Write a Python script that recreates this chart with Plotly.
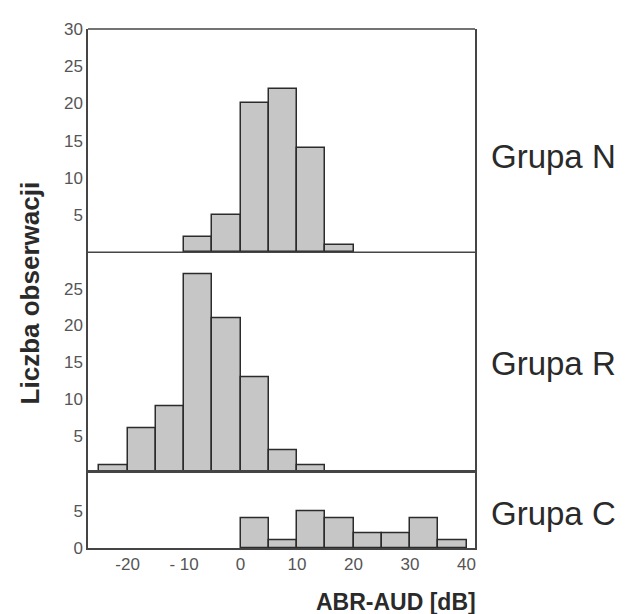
import plotly.graph_objects as go

# Bin starts (dB) and counts per group, bin width 5 dB
bin_width = 5
n_bins = [-10, -5, 0, 5, 10, 15]
n_counts = [2, 5, 20, 22, 14, 1]
r_bins = [-25, -20, -15, -10, -5, 0, 5, 10]
r_counts = [1, 6, 9, 27, 21, 13, 3, 1]
c_bins = [0, 5, 10, 15, 20, 25, 30, 35]
c_counts = [4, 1, 5, 4, 2, 2, 4, 1]

x_ticks = [-20, -10, 0, 10, 20, 30, 40]
x_ticktext = ["-20", "- 10", "0", "10", "20", "30", "40"]
group_labels = ["Grupa N", "Grupa R", "Grupa C"]

fig = go.Figure()

bar_style = dict(marker=dict(color="#c6c6c6", line=dict(color="#2b2b2b", width=1.5)),
                 width=bin_width, showlegend=False, hoverinfo="x+y")

for bins, counts, ax in [(n_bins, n_counts, "y"), (r_bins, r_counts, "y2"), (c_bins, c_counts, "y3")]:
    fig.add_trace(go.Bar(x=[b + bin_width / 2 for b in bins], y=counts,
                         xaxis="x", yaxis=ax, **bar_style))

# page body has an 8px margin; figure sized/offset to compensate
OFF = 8
W, H = 629 - OFF, 614 - OFF
ML, MR, MT, MB = 88 - OFF, 154, 20 - OFF, 66
plot_w = W - ML - MR
total_h = H - MT - MB  # 528


def px_x(x):
    return (x - 88) / plot_w


def px_y(y):
    return (548 - y) / total_h


d_n = px_y(247)
d_r = px_y(471)

line_col = "#454545"
tick_font = dict(family="Liberation Sans, Arial, sans-serif", size=17, color="#555555")
axis_common = dict(showline=True, linecolor=line_col, linewidth=1.5, mirror=True,
                   showgrid=False, zeroline=False, ticks="", tickfont=tick_font)

fig.update_layout(
    width=W, height=H,
    margin=dict(l=ML, r=MR, t=MT, b=MB),
    paper_bgcolor="white", plot_bgcolor="white",
    bargap=0,
    xaxis=dict(range=[-27, 41.5], tickvals=x_ticks, ticktext=x_ticktext,
               anchor="y3", **axis_common),
    yaxis=dict(domain=[d_n, 1], range=[0, 30], tickvals=[5, 10, 15, 20, 25, 30], **axis_common),
    yaxis2=dict(domain=[d_r, d_n], range=[0, 30], tickvals=[5, 10, 15, 20, 25], **axis_common),
    yaxis3=dict(domain=[0, d_r], range=[0, 10.3], tickvals=[0, 5], **axis_common),
)

for y0 in [d_n, d_r, 1]:
    fig.add_shape(type="line", xref="paper", yref="paper", x0=0, x1=1, y0=y0, y1=y0,
                  line=dict(color=line_col, width=1.5))

label_font = dict(family="Liberation Sans, Arial, sans-serif", size=33, color="#2a2a2a")
for label, ypx in zip(group_labels, [150, 360, 513]):
    fig.add_annotation(text=label, xref="paper", yref="paper",
                       x=px_x(489), y=px_y(ypx),
                       xanchor="left", yanchor="middle", showarrow=False, font=label_font)

fig.add_annotation(text="<b>Liczba obserwacji</b>", xref="paper", yref="paper",
                   x=px_x(30), y=px_y(289), textangle=-90,
                   xanchor="center", yanchor="middle", showarrow=False,
                   font=dict(family="Liberation Sans, Arial, sans-serif", size=26, color="#2a2a2a"))
fig.add_annotation(text="<b>ABR-AUD [dB]</b>", xref="paper", yref="paper",
                   x=px_x(396), y=px_y(603),
                   xanchor="center", yanchor="middle", showarrow=False,
                   font=dict(family="Liberation Sans, Arial, sans-serif", size=23, color="#2a2a2a"))

fig.write_html("out.html")
